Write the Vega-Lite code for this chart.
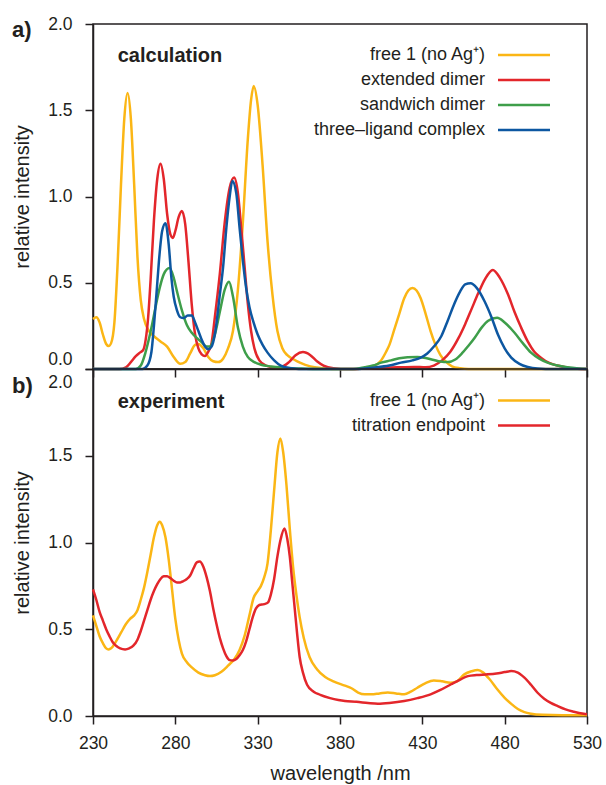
{
  "$schema": "https://vega.github.io/schema/vega-lite/v6.json",
  "padding": {"left": 11, "top": 14, "right": 5, "bottom": 2},
  "bounds": "flush",
  "spacing": 0,
  "config": {
    "font": "Liberation Sans",
    "view": {"stroke": "#231f20", "strokeWidth": 1.5},
    "axis": {"domainColor": "#231f20", "domainWidth": 1.5, "tickColor": "#231f20", "tickWidth": 1.5, "labelColor": "#231f20", "titleColor": "#231f20", "labelFontSize": 17.5, "titleFontSize": 20, "titleFontWeight": "normal", "grid": false, "labelFont": "Liberation Sans", "titleFont": "Liberation Sans", "labelOverlap": false, "labelFlush": false},
    "line": {"interpolate": "monotone", "strokeWidth": 2.5}
  },
  "datasets": {
    "calcFree": [{"wl":230,"I":0.29},{"wl":232,"I":0.30},{"wl":234,"I":0.27},{"wl":236,"I":0.2},{"wl":238,"I":0.145},{"wl":239.5,"I":0.133},{"wl":241,"I":0.15},{"wl":243,"I":0.27},{"wl":245,"I":0.62},{"wl":247,"I":1.07},{"wl":249,"I":1.45},{"wl":251,"I":1.6},{"wl":253,"I":1.45},{"wl":255,"I":1.07},{"wl":257,"I":0.65},{"wl":259,"I":0.4},{"wl":261,"I":0.29},{"wl":264,"I":0.22},{"wl":267,"I":0.19},{"wl":271,"I":0.16},{"wl":275,"I":0.13},{"wl":279,"I":0.07},{"wl":283,"I":0.03},{"wl":286,"I":0.04},{"wl":289,"I":0.09},{"wl":292,"I":0.14},{"wl":294,"I":0.145},{"wl":297,"I":0.12},{"wl":300,"I":0.07},{"wl":303,"I":0.045},{"wl":306,"I":0.04},{"wl":309,"I":0.06},{"wl":312,"I":0.12},{"wl":315,"I":0.22},{"wl":318,"I":0.46},{"wl":321,"I":0.85},{"wl":324,"I":1.33},{"wl":326,"I":1.56},{"wl":327.6,"I":1.64},{"wl":330,"I":1.53},{"wl":333,"I":1.18},{"wl":336,"I":0.74},{"wl":339,"I":0.43},{"wl":342,"I":0.22},{"wl":345,"I":0.12},{"wl":348,"I":0.08},{"wl":352,"I":0.055},{"wl":356,"I":0.035},{"wl":362,"I":0.015},{"wl":370,"I":0.005},{"wl":380,"I":0},{"wl":390,"I":0},{"wl":395,"I":0.005},{"wl":400,"I":0.015},{"wl":405,"I":0.05},{"wl":408,"I":0.1},{"wl":410,"I":0.14},{"wl":413,"I":0.23},{"wl":416,"I":0.32},{"wl":419,"I":0.41},{"wl":421.5,"I":0.455},{"wl":424,"I":0.47},{"wl":426.5,"I":0.455},{"wl":429,"I":0.41},{"wl":432,"I":0.32},{"wl":435,"I":0.22},{"wl":438,"I":0.14},{"wl":441,"I":0.08},{"wl":444,"I":0.045},{"wl":448,"I":0.015},{"wl":453,"I":0.004},{"wl":458,"I":0},{"wl":530,"I":0}],
    "calcExt": [{"wl":230,"I":0},{"wl":246,"I":0},{"wl":250,"I":0.01},{"wl":253,"I":0.04},{"wl":256,"I":0.075},{"wl":258.5,"I":0.095},{"wl":260.5,"I":0.11},{"wl":262,"I":0.17},{"wl":263.5,"I":0.3},{"wl":265,"I":0.52},{"wl":267,"I":0.86},{"wl":269,"I":1.1},{"wl":271,"I":1.19},{"wl":273,"I":1.1},{"wl":275,"I":0.9},{"wl":277,"I":0.78},{"wl":278.5,"I":0.76},{"wl":280,"I":0.8},{"wl":282,"I":0.88},{"wl":284,"I":0.916},{"wl":286,"I":0.84},{"wl":288,"I":0.62},{"wl":290,"I":0.37},{"wl":292,"I":0.2},{"wl":294,"I":0.12},{"wl":296,"I":0.085},{"wl":298,"I":0.075},{"wl":300,"I":0.1},{"wl":302,"I":0.15},{"wl":304,"I":0.3},{"wl":307,"I":0.55},{"wl":310,"I":0.85},{"wl":313,"I":1.05},{"wl":315.7,"I":1.11},{"wl":318,"I":1.02},{"wl":320,"I":0.82},{"wl":322,"I":0.6},{"wl":324,"I":0.38},{"wl":326,"I":0.22},{"wl":328,"I":0.12},{"wl":331,"I":0.05},{"wl":335,"I":0.02},{"wl":340,"I":0.01},{"wl":345,"I":0.015},{"wl":349,"I":0.04},{"wl":353,"I":0.08},{"wl":357.5,"I":0.098},{"wl":362,"I":0.08},{"wl":366,"I":0.045},{"wl":370,"I":0.02},{"wl":376,"I":0.005},{"wl":385,"I":0},{"wl":400,"I":0.005},{"wl":415,"I":0.01},{"wl":425,"I":0.012},{"wl":432,"I":0.01},{"wl":437,"I":0.02},{"wl":442,"I":0.05},{"wl":447,"I":0.1},{"wl":452,"I":0.18},{"wl":456,"I":0.26},{"wl":460,"I":0.35},{"wl":464,"I":0.44},{"wl":468,"I":0.52},{"wl":472.8,"I":0.574},{"wl":477,"I":0.53},{"wl":482,"I":0.433},{"wl":486,"I":0.33},{"wl":490,"I":0.24},{"wl":494,"I":0.16},{"wl":498,"I":0.1},{"wl":502,"I":0.066},{"wl":507,"I":0.035},{"wl":512,"I":0.02},{"wl":520,"I":0.005},{"wl":530,"I":0}],
    "calcSand": [{"wl":230,"I":0},{"wl":256,"I":0},{"wl":259,"I":0.02},{"wl":262,"I":0.1},{"wl":265.5,"I":0.24},{"wl":268,"I":0.36},{"wl":270.5,"I":0.47},{"wl":273,"I":0.55},{"wl":276.5,"I":0.585},{"wl":279,"I":0.53},{"wl":281,"I":0.45},{"wl":284,"I":0.34},{"wl":287,"I":0.255},{"wl":290,"I":0.21},{"wl":293,"I":0.18},{"wl":296,"I":0.155},{"wl":299,"I":0.13},{"wl":301,"I":0.13},{"wl":304,"I":0.2},{"wl":307,"I":0.33},{"wl":310,"I":0.46},{"wl":312.6,"I":0.506},{"wl":315,"I":0.42},{"wl":318,"I":0.24},{"wl":321,"I":0.13},{"wl":324,"I":0.07},{"wl":328,"I":0.04},{"wl":332,"I":0.025},{"wl":338,"I":0.015},{"wl":345,"I":0.008},{"wl":355,"I":0.003},{"wl":365,"I":0},{"wl":388,"I":0},{"wl":395,"I":0.01},{"wl":400,"I":0.02},{"wl":405,"I":0.037},{"wl":411,"I":0.05},{"wl":416,"I":0.062},{"wl":421,"I":0.068},{"wl":427,"I":0.07},{"wl":432,"I":0.064},{"wl":437,"I":0.052},{"wl":441,"I":0.043},{"wl":445.5,"I":0.04},{"wl":450,"I":0.055},{"wl":454,"I":0.09},{"wl":458,"I":0.135},{"wl":461.7,"I":0.18},{"wl":466,"I":0.24},{"wl":470,"I":0.28},{"wl":475.4,"I":0.297},{"wl":480,"I":0.27},{"wl":486,"I":0.21},{"wl":491,"I":0.15},{"wl":496,"I":0.095},{"wl":501,"I":0.06},{"wl":506,"I":0.037},{"wl":512,"I":0.02},{"wl":518,"I":0.01},{"wl":525,"I":0.003},{"wl":530,"I":0}],
    "calcThree": [{"wl":230,"I":0},{"wl":260,"I":0},{"wl":263,"I":0.02},{"wl":265.5,"I":0.1},{"wl":267,"I":0.25},{"wl":268.5,"I":0.43},{"wl":270,"I":0.62},{"wl":272,"I":0.8},{"wl":274,"I":0.845},{"wl":276,"I":0.72},{"wl":277.6,"I":0.53},{"wl":279,"I":0.42},{"wl":281,"I":0.34},{"wl":283,"I":0.3},{"wl":285,"I":0.295},{"wl":287.5,"I":0.31},{"wl":290,"I":0.31},{"wl":292,"I":0.27},{"wl":294,"I":0.22},{"wl":296,"I":0.17},{"wl":298,"I":0.13},{"wl":300,"I":0.115},{"wl":302,"I":0.13},{"wl":304,"I":0.2},{"wl":307,"I":0.43},{"wl":309,"I":0.59},{"wl":311,"I":0.82},{"wl":313,"I":1.0},{"wl":314.6,"I":1.09},{"wl":317,"I":1.02},{"wl":319,"I":0.82},{"wl":321,"I":0.63},{"wl":323,"I":0.47},{"wl":325,"I":0.36},{"wl":327.5,"I":0.27},{"wl":330,"I":0.2},{"wl":333,"I":0.14},{"wl":336,"I":0.095},{"wl":340,"I":0.05},{"wl":344,"I":0.02},{"wl":350,"I":0.005},{"wl":360,"I":0},{"wl":390,"I":0},{"wl":400,"I":0.008},{"wl":410,"I":0.02},{"wl":417,"I":0.037},{"wl":424,"I":0.05},{"wl":429,"I":0.066},{"wl":433,"I":0.09},{"wl":437,"I":0.13},{"wl":441.5,"I":0.19},{"wl":445,"I":0.27},{"wl":449.5,"I":0.38},{"wl":453,"I":0.45},{"wl":456,"I":0.49},{"wl":459.3,"I":0.497},{"wl":463,"I":0.47},{"wl":467.7,"I":0.394},{"wl":472,"I":0.3},{"wl":475.9,"I":0.2},{"wl":480,"I":0.12},{"wl":484,"I":0.066},{"wl":489,"I":0.03},{"wl":494,"I":0.012},{"wl":500,"I":0.003},{"wl":510,"I":0},{"wl":530,"I":0}],
    "exptFree": [{"wl":230,"I":0.58},{"wl":232,"I":0.52},{"wl":234,"I":0.46},{"wl":236,"I":0.42},{"wl":238,"I":0.39},{"wl":239.5,"I":0.384},{"wl":241,"I":0.39},{"wl":244,"I":0.43},{"wl":247,"I":0.48},{"wl":250,"I":0.53},{"wl":252.5,"I":0.56},{"wl":255,"I":0.58},{"wl":257,"I":0.61},{"wl":259,"I":0.67},{"wl":261,"I":0.74},{"wl":263,"I":0.83},{"wl":265,"I":0.93},{"wl":267,"I":1.03},{"wl":269,"I":1.1},{"wl":270.5,"I":1.12},{"wl":272,"I":1.1},{"wl":274,"I":1.03},{"wl":276,"I":0.9},{"wl":278,"I":0.73},{"wl":280,"I":0.56},{"wl":282,"I":0.44},{"wl":284,"I":0.36},{"wl":287,"I":0.31},{"wl":290,"I":0.28},{"wl":294,"I":0.25},{"wl":298,"I":0.235},{"wl":301,"I":0.23},{"wl":304,"I":0.235},{"wl":308,"I":0.255},{"wl":312,"I":0.29},{"wl":316,"I":0.33},{"wl":319,"I":0.38},{"wl":322,"I":0.46},{"wl":325,"I":0.58},{"wl":327.5,"I":0.68},{"wl":330,"I":0.72},{"wl":332,"I":0.75},{"wl":334,"I":0.8},{"wl":336,"I":0.88},{"wl":338,"I":1.07},{"wl":340,"I":1.3},{"wl":342,"I":1.52},{"wl":343.8,"I":1.6},{"wl":345.5,"I":1.52},{"wl":347.5,"I":1.33},{"wl":349.5,"I":1.08},{"wl":351.5,"I":0.86},{"wl":353.5,"I":0.7},{"wl":355.5,"I":0.57},{"wl":358,"I":0.45},{"wl":361.5,"I":0.34},{"wl":366,"I":0.27},{"wl":371,"I":0.225},{"wl":376,"I":0.2},{"wl":383,"I":0.175},{"wl":387,"I":0.16},{"wl":391,"I":0.135},{"wl":395,"I":0.125},{"wl":399,"I":0.125},{"wl":404,"I":0.13},{"wl":409,"I":0.135},{"wl":414,"I":0.13},{"wl":419,"I":0.125},{"wl":423,"I":0.14},{"wl":427,"I":0.163},{"wl":432,"I":0.19},{"wl":437,"I":0.205},{"wl":442,"I":0.2},{"wl":447,"I":0.192},{"wl":451,"I":0.2},{"wl":455.5,"I":0.24},{"wl":460,"I":0.258},{"wl":463.7,"I":0.265},{"wl":467,"I":0.25},{"wl":471,"I":0.21},{"wl":475,"I":0.16},{"wl":480,"I":0.105},{"wl":484,"I":0.07},{"wl":488,"I":0.04},{"wl":492,"I":0.022},{"wl":496,"I":0.013},{"wl":503,"I":0.007},{"wl":515,"I":0.005},{"wl":530,"I":0.005}],
    "exptEnd": [{"wl":230,"I":0.73},{"wl":232,"I":0.67},{"wl":234,"I":0.6},{"wl":236,"I":0.55},{"wl":238,"I":0.5},{"wl":240,"I":0.46},{"wl":242,"I":0.425},{"wl":244,"I":0.405},{"wl":246.5,"I":0.39},{"wl":249.5,"I":0.384},{"wl":252,"I":0.39},{"wl":254.5,"I":0.405},{"wl":257,"I":0.44},{"wl":259,"I":0.49},{"wl":261,"I":0.55},{"wl":263,"I":0.61},{"wl":265,"I":0.67},{"wl":267,"I":0.72},{"wl":269,"I":0.76},{"wl":271,"I":0.79},{"wl":273,"I":0.805},{"wl":275,"I":0.806},{"wl":277,"I":0.795},{"wl":279,"I":0.78},{"wl":281,"I":0.77},{"wl":283,"I":0.77},{"wl":285,"I":0.778},{"wl":287,"I":0.79},{"wl":289,"I":0.81},{"wl":291,"I":0.85},{"wl":293,"I":0.885},{"wl":294.8,"I":0.89},{"wl":297,"I":0.86},{"wl":299,"I":0.8},{"wl":301,"I":0.72},{"wl":303,"I":0.62},{"wl":305,"I":0.53},{"wl":307,"I":0.45},{"wl":309,"I":0.39},{"wl":311,"I":0.345},{"wl":313,"I":0.322},{"wl":315,"I":0.32},{"wl":317,"I":0.328},{"wl":319,"I":0.35},{"wl":321,"I":0.38},{"wl":323,"I":0.43},{"wl":325,"I":0.5},{"wl":327,"I":0.57},{"wl":329,"I":0.62},{"wl":331,"I":0.64},{"wl":334,"I":0.645},{"wl":336.3,"I":0.655},{"wl":338,"I":0.7},{"wl":340,"I":0.79},{"wl":342,"I":0.92},{"wl":344,"I":1.02},{"wl":346.3,"I":1.08},{"wl":348,"I":1.02},{"wl":349.5,"I":0.92},{"wl":351,"I":0.77},{"wl":352.5,"I":0.62},{"wl":354,"I":0.47},{"wl":355.5,"I":0.34},{"wl":357.5,"I":0.25},{"wl":360,"I":0.18},{"wl":364,"I":0.14},{"wl":368,"I":0.122},{"wl":374,"I":0.103},{"wl":379,"I":0.092},{"wl":383,"I":0.086},{"wl":390,"I":0.082},{"wl":397,"I":0.075},{"wl":403,"I":0.071},{"wl":410,"I":0.075},{"wl":419,"I":0.086},{"wl":427,"I":0.103},{"wl":435,"I":0.125},{"wl":441,"I":0.15},{"wl":447.5,"I":0.183},{"wl":453,"I":0.21},{"wl":457.7,"I":0.23},{"wl":463,"I":0.236},{"wl":469.8,"I":0.24},{"wl":475,"I":0.245},{"wl":480,"I":0.253},{"wl":484,"I":0.259},{"wl":488,"I":0.25},{"wl":492,"I":0.221},{"wl":496,"I":0.18},{"wl":500,"I":0.134},{"wl":504,"I":0.1},{"wl":508,"I":0.076},{"wl":512,"I":0.058},{"wl":517,"I":0.038},{"wl":522,"I":0.025},{"wl":528,"I":0.013},{"wl":530,"I":0.01}]
  },
  "vconcat": [
    {
      "width": 494,
      "height": 345,
      "title": {"text": "a)", "anchor": "start", "frame": "group", "fontSize": 22, "fontWeight": "bold", "font": "Liberation Sans", "color": "#231f20", "baseline": "middle", "offset": -37, "dx": -81},
      "layer": [
        {
          "data": {"name": "calcFree"},
          "mark": "line",
          "encoding": {
            "x": {"field": "wl", "type": "quantitative", "scale": {"domain": [230, 530], "nice": false, "zero": false}, "axis": {"values": [230, 280, 330, 380, 430, 480, 530], "labels": false, "title": null, "tickSize": 8}},
            "y": {"field": "I", "type": "quantitative", "scale": {"domain": [0, 2], "nice": false, "zero": false}, "axis": {"values": [0, 0.5, 1, 1.5, 2], "format": ".1f", "title": "relative intensity", "tickSize": 8, "labelPadding": 13, "titlePadding": 15, "labelOffset": {"condition": {"test": "datum.value == 0", "value": -10}, "value": 0}}},
            "color": {"datum": "free 1 (no Ag⁺)", "scale": {"domain": ["free 1 (no Ag⁺)", "extended dimer", "sandwich dimer", "three–ligand complex"], "range": ["#fbb615", "#e3262b", "#3e9e4a", "#0d57a1"]}, "legend": {"title": null, "orient": "none", "legendX": 287, "legendY": 22, "symbolType": "M-5.2,0H5.2", "symbolSize": 100, "symbolStrokeWidth": 2.5, "labelAlign": "right", "labelOffset": -48, "symbolOffset": 135, "labelFontSize": 18, "labelFont": "Liberation Sans", "labelColor": "#231f20", "rowPadding": 7, "labelLimit": 400, "padding": 0}}
          }
        },
        {"data": {"name": "calcExt"}, "mark": "line", "encoding": {"x": {"field": "wl", "type": "quantitative"}, "y": {"field": "I", "type": "quantitative"}, "color": {"datum": "extended dimer"}}},
        {"data": {"name": "calcSand"}, "mark": "line", "encoding": {"x": {"field": "wl", "type": "quantitative"}, "y": {"field": "I", "type": "quantitative"}, "color": {"datum": "sandwich dimer"}}},
        {"data": {"name": "calcThree"}, "mark": "line", "encoding": {"x": {"field": "wl", "type": "quantitative"}, "y": {"field": "I", "type": "quantitative"}, "color": {"datum": "three–ligand complex"}}},
        {"data": {"values": [{}]}, "mark": {"type": "text", "text": "calculation", "fontWeight": "bold", "fontSize": 20, "align": "left", "baseline": "alphabetic", "color": "#231f20", "font": "Liberation Sans"}, "encoding": {"x": {"datum": 245}, "y": {"datum": 1.777}}}
      ]
    },
    {
      "width": 494,
      "height": 347,
      "title": {"text": "b)", "anchor": "start", "frame": "group", "fontSize": 22, "fontWeight": "bold", "font": "Liberation Sans", "color": "#231f20", "baseline": "middle", "offset": -40, "dx": -81},
      "layer": [
        {
          "data": {"name": "exptFree"},
          "mark": "line",
          "encoding": {
            "x": {"field": "wl", "type": "quantitative", "scale": {"domain": [230, 530], "nice": false, "zero": false}, "axis": {"values": [230, 280, 330, 380, 430, 480, 530], "title": "wavelength /nm", "tickSize": 8, "labelPadding": 10, "titlePadding": 12}},
            "y": {"field": "I", "type": "quantitative", "scale": {"domain": [0, 2], "nice": false, "zero": false}, "axis": {"values": [0, 0.5, 1, 1.5, 2], "format": ".1f", "title": "relative intensity", "tickSize": 8, "labelPadding": 13, "titlePadding": 15, "labelOffset": {"condition": {"test": "datum.value == 2", "value": 13}, "value": 0}}},
            "color": {"datum": "free 1 (no Ag⁺)", "scale": {"domain": ["free 1 (no Ag⁺)", "titration endpoint"], "range": ["#fbb615", "#e3262b"]}, "legend": {"title": null, "orient": "none", "legendX": 287, "legendY": 22.5, "symbolType": "M-5.2,0H5.2", "symbolSize": 100, "symbolStrokeWidth": 2.5, "labelAlign": "right", "labelOffset": -48, "symbolOffset": 135, "labelFontSize": 18, "labelFont": "Liberation Sans", "labelColor": "#231f20", "rowPadding": 7, "labelLimit": 400, "padding": 0}}
          }
        },
        {"data": {"name": "exptEnd"}, "mark": "line", "encoding": {"x": {"field": "wl", "type": "quantitative"}, "y": {"field": "I", "type": "quantitative"}, "color": {"datum": "titration endpoint"}}},
        {"data": {"values": [{}]}, "mark": {"type": "text", "text": "experiment", "fontWeight": "bold", "fontSize": 20, "align": "left", "baseline": "alphabetic", "color": "#231f20", "font": "Liberation Sans"}, "encoding": {"x": {"datum": 245}, "y": {"datum": 1.777}}}
      ]
    }
  ],
  "resolve": {"scale": {"color": "independent"}}
}
